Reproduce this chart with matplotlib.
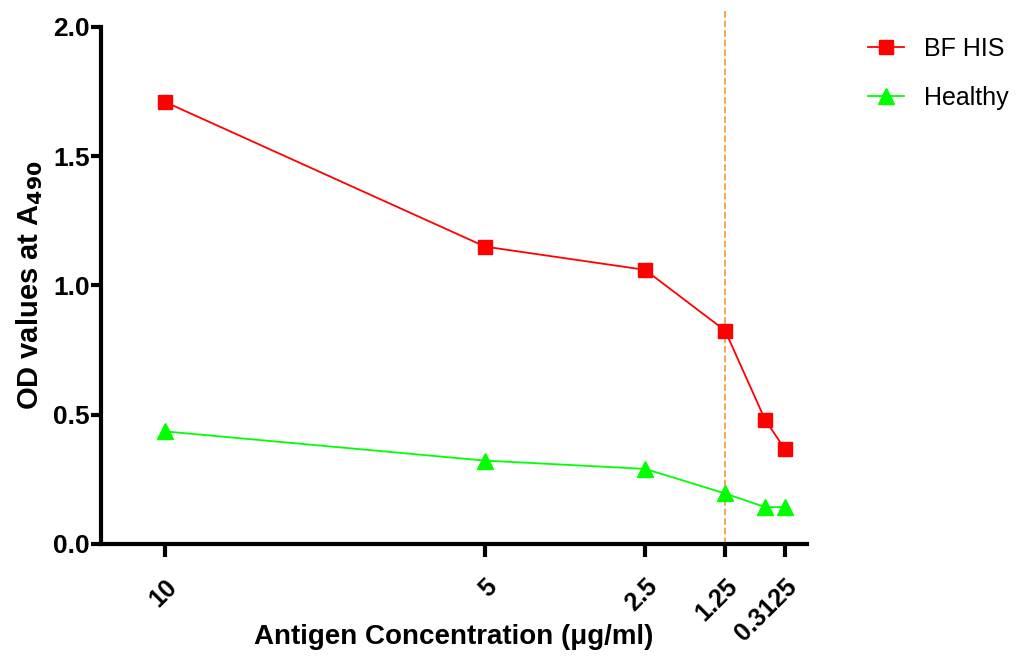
import matplotlib
matplotlib.use("Agg")
import matplotlib.pyplot as plt

conc = [10, 5, 2.5, 1.25, 0.625, 0.3125]
bf_his = [1.71, 1.15, 1.06, 0.825, 0.48, 0.365]
healthy = [0.435, 0.322, 0.29, 0.195, 0.142, 0.142]
tick_vals = [10, 5, 2.5, 1.25, 0.3125]
tick_labels = ["10", "5", "2.5", "1.25", "0.3125"]
cutoff = 1.25

plt.rcParams['font.family'] = ['Liberation Sans', 'DejaVu Sans']

fig = plt.figure(figsize=(10.19, 6.56), dpi=100)
ax = fig.add_axes([0.099, 0.171, 0.693, 0.788])

ax.plot(conc, bf_his, color='#FF0000', marker='s', markersize=10, lw=1.3,
        label='BF HIS', clip_on=False, zorder=3)
ax.plot(conc, healthy, color='#00FF00', marker='^', markersize=11, lw=1.3,
        label='Healthy', clip_on=False, zorder=3)
ax.axvline(cutoff, ymin=0, ymax=1.03, color='#F5A040', ls='--', lw=1.3,
           clip_on=False, zorder=2)

ax.set_xlim(11, -0.03)
ax.set_ylim(0, 2.0)
ax.set_xticks(tick_vals)
ax.set_xticklabels(tick_labels, rotation=45, ha='right', va='top',
                   rotation_mode='anchor', fontsize=18, fontweight='bold')
ax.set_yticks([0, 0.5, 1.0, 1.5, 2.0])
ax.set_yticklabels(["0.0", "0.5", "1.0", "1.5", "2.0"], fontsize=19,
                   fontweight='bold')

for s in ['top', 'right']:
    ax.spines[s].set_visible(False)
for s in ['left', 'bottom']:
    ax.spines[s].set_linewidth(3)
ax.tick_params(axis='y', length=7, width=3, pad=1)
ax.tick_params(axis='x', length=9, width=3, pad=13)

ax.set_xlabel("Antigen Concentration (\u03bcg/ml)", fontsize=20,
              fontweight='bold')
ax.xaxis.set_label_coords(0.5, -0.155)
ax.set_ylabel("OD values at A$_{\\mathbf{490}}$", fontsize=21,
              fontweight='bold', labelpad=6)

leg = ax.legend(loc='upper left', bbox_to_anchor=(1.072, 1.0), frameon=False,
                fontsize=18, handlelength=1.45, labelspacing=1.0,
                handletextpad=0.8, borderaxespad=0)

fig.savefig("out.png", dpi=100)
